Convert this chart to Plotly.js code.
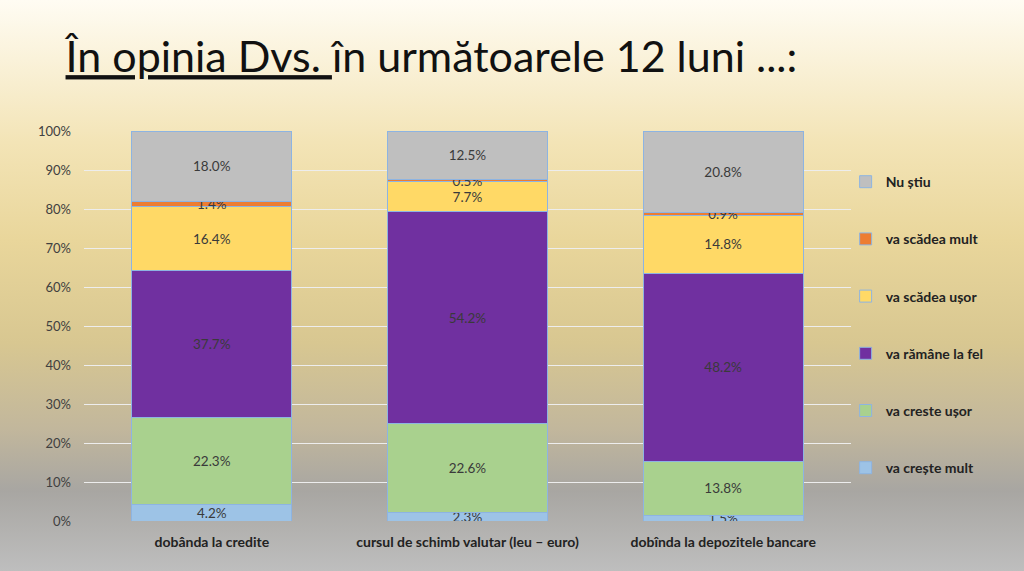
<!DOCTYPE html>
<html>
<head>
<meta charset="utf-8">
<script src="https://cdn.plot.ly/plotly-3.0.1.min.js"></script>
<style>
html,body{margin:0;padding:0;width:1024px;height:571px;overflow:hidden;}
body{background:linear-gradient(to bottom,#FFFCF3 0%,#F3E4B6 25%,#E9D69B 42%,#D8C791 60%,#C2B79C 75%,#A8A6A2 86%,#BEBEBE 100%);}
#chart{width:1024px;height:571px;}
</style>
</head>
<body>
<div id="chart"></div>
<script>
const categories = ["dobânda la credite", "cursul de schimb valutar (leu – euro)", "dobînda la depozitele bancare"];
const seriesNames = ["va crește mult", "va creste ușor", "va rămâne la fel", "va scădea ușor", "va scădea mult", "Nu știu"];
const creste_mult = [4.2, 2.3, 1.5];
const creste_usor = [22.3, 22.6, 13.8];
const ramane = [37.7, 54.2, 48.2];
const scadea_usor = [16.4, 7.7, 14.8];
const scadea_mult = [1.4, 0.5, 0.9];
const nu_stiu = [18.0, 12.5, 20.8];
const yTicks = [0, 10, 20, 30, 40, 50, 60, 70, 80, 90, 100];

const seriesValues = [creste_mult, creste_usor, ramane, scadea_usor, scadea_mult, nu_stiu];
const colors = ["#9DC3E6", "#A9D18E", "#7030A0", "#FFD966", "#ED7D31", "#BFBFBF"];
const FONT = 'Lato, "Open Sans", sans-serif';

const traces = seriesValues.map((vals, i) => ({
  type: 'bar',
  name: seriesNames[i],
  legendgroup: 'g' + i,
  legendrank: 100 - i,
  x: categories,
  y: vals,
  text: vals.map(v => v.toFixed(1) + '%'),
  textposition: 'inside',
  insidetextanchor: 'middle',
  textangle: 0,
  constraintext: 'none',
  textfont: {family: FONT, size: 13.5, color: '#3a3a3a'},
  marker: {color: colors[i], line: {color: '#8DB4E2', width: 1}},
  hoverinfo: 'name+y'
}));

const layout = {
  width: 1024, height: 571,
  paper_bgcolor: 'rgba(0,0,0,0)',
  plot_bgcolor: 'rgba(0,0,0,0)',
  barmode: 'stack',
  barnorm: 'percent',
  bargap: 0.375,
  margin: {l: 83.5, r: 172.5, t: 131, b: 50},
  title: {
    text: '<span style="text-decoration:underline">În opinia Dvs. </span>în următoarele 12 luni ...:',
    font: {family: FONT, size: 43, color: '#111'},
    x: 0.064, xanchor: 'left', xref: 'container',
    y: 0.9, yanchor: 'middle', yref: 'container'
  },
  uniformtext: {mode: 'show', minsize: 13.5},
  xaxis: {
    type: 'category',
    showgrid: false, zeroline: false, showline: false,
    ticks: '',
    tickfont: {family: FONT, size: 14, color: '#222', weight: 'bold'},
    ticklabelstandoff: 11
  },
  yaxis: {
    range: [0, 100],
    tickvals: yTicks,
    ticktext: yTicks.map(v => v + '%'),
    showgrid: true, gridcolor: '#EDEDED', gridwidth: 1,
    zeroline: false, showline: false,
    tickfont: {family: FONT, size: 13, color: '#404040'},
    ticklabelstandoff: 12
  },
  showlegend: true,
  legend: {
    traceorder: 'grouped',
    tracegroupgap: 36,
    x: 0.993, xanchor: 'left',
    y: 0.91, yanchor: 'top',
    bgcolor: 'rgba(0,0,0,0)',
    font: {family: FONT, size: 14, color: '#222', weight: 'bold'},
    itemwidth: 30
  }
};

Plotly.newPlot('chart', traces, layout, {displayModeBar: false, staticPlot: true});
</script>
</body>
</html>
